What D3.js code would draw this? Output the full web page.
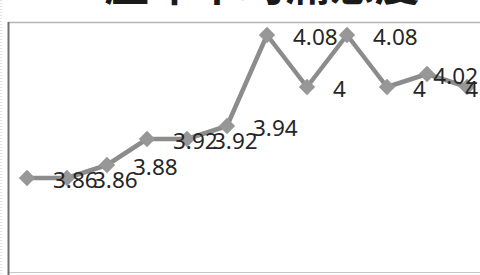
<!DOCTYPE html>
<html>
<head>
<meta charset="utf-8">
<script src="https://cdn.jsdelivr.net/npm/d3@7"></script>
<style>
  body { margin: 0; background: #fff; }
  svg { display: block; }
</style>
</head>
<body>
<script>
// data
var title = "歷年平均滿意度";
var categories = ["1", "2", "3", "4", "5", "6", "7", "8", "9", "10", "11", "12"];
var values = [3.86, 3.86, 3.88, 3.92, 3.92, 3.94, 4.08, 4, 4.08, 4, 4.02, 4];
var yDomain = [3.8, 4.1];

var w = 480;
var h = 275;

var svg = d3.select("body")
  .append("svg")
  .attr("width", w)
  .attr("height", h);

// title, mostly cut off above the picture
svg.append("text")
  .attr("x", 262)
  .attr("y", 1)
  .attr("text-anchor", "middle")
  .style("font-family", "'Noto Sans CJK TC', 'Noto Sans CJK SC', sans-serif")
  .style("font-weight", "bold")
  .style("font-size", "45px")
  .style("fill", "#1a1a1a")
  .text(title);

// chart frame
svg.append("line")
  .attr("x1", 8.5).attr("x2", w)
  .attr("y1", 22.5).attr("y2", 22.5)
  .attr("stroke", "#b4b4b4").attr("stroke-width", 1.5);
svg.append("line")
  .attr("x1", 8.5).attr("x2", w)
  .attr("y1", 272.5).attr("y2", 272.5)
  .attr("stroke", "#c8c8c8").attr("stroke-width", 1);
svg.append("line")
  .attr("x1", 8.5).attr("x2", 8.5)
  .attr("y1", 22).attr("y2", h)
  .attr("stroke", "#6e6e6e").attr("stroke-width", 2);
svg.append("line")
  .attr("x1", 1).attr("x2", 1)
  .attr("y1", 0).attr("y2", h)
  .attr("stroke", "#c8c8c8").attr("stroke-width", 1)
  .attr("stroke-dasharray", "1,2");

//scales
var xScale = d3.scalePoint()
  .domain(categories)
  .range([27, 467]);

var yScale = d3.scaleLinear()
  .domain(yDomain)
  .range([217, 22]);

var line = d3.line()
  .x(function(d, i) { return xScale(categories[i]); })
  .y(function(d) { return yScale(d); });

svg.append("path")
  .datum(values)
  .attr("d", line)
  .attr("fill", "none")
  .attr("stroke", "#8c8c8c")
  .attr("stroke-width", 4.5)
  .attr("stroke-linejoin", "round");

svg.selectAll("path.marker")
  .data(values)
  .enter()
  .append("path")
  .attr("class", "marker")
  .attr("d", d3.symbol().type(d3.symbolDiamond2).size(170))
  .attr("transform", function(d, i) {
    return "translate(" + xScale(categories[i]) + "," + yScale(d) + ")";
  })
  .attr("fill", "#979797");

// data labels, to the right of each point, kept inside the frame
var labels = svg.selectAll("text.label")
  .data(values)
  .enter()
  .append("text")
  .attr("class", "label")
  .style("font-family", "'Noto Sans', sans-serif")
  .style("font-size", "22.5px")
  .style("fill", "#262626")
  .attr("y", function(d) { return yScale(d) + 10; })
  .text(function(d) { return d3.format("")(d); });

labels.attr("x", function(d, i) {
  var tw = this.getComputedTextLength();
  var x = xScale(categories[i]) + 26;
  return Math.min(x, w - 2 - tw);
});
</script>
</body>
</html>
